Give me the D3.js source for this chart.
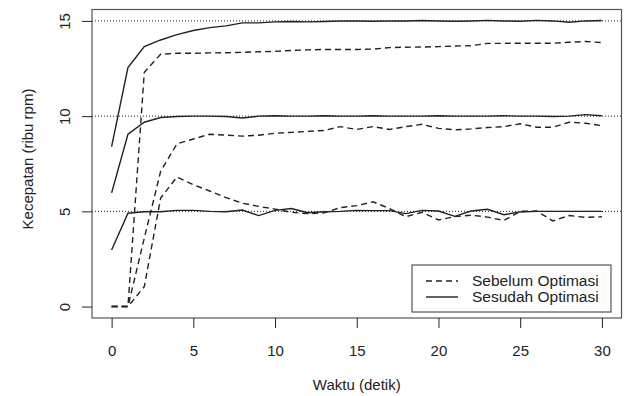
<!DOCTYPE html>
<html>
<head>
<meta charset="utf-8">
<script src="https://cdn.jsdelivr.net/npm/d3@7"></script>
<style>
  body { margin: 0; background: #fff; }
  svg { display: block; font-family: "Liberation Sans", Arial, sans-serif; }
</style>
</head>
<body>
<div id="chart"></div>
<script>
// time axis (seconds)
const waktu = [0, 1, 2, 3, 4, 5, 6, 7, 8, 9, 10, 11, 12, 13, 14, 15,
  16, 17, 18, 19, 20, 21, 22, 23, 24, 25, 26, 27, 28, 29, 30];

// before optimisation (dashed)
const sebelum5 = [0, 0, 1.05, 5.7, 6.8, 6.4, 6.07, 5.72, 5.43, 5.26, 5.12,
  4.95, 4.88, 4.92, 5.2, 5.3, 5.5, 5.15, 4.72, 4.95, 4.55, 4.72, 4.8, 4.7,
  4.52, 5.0, 5.02, 4.5, 4.78, 4.68, 4.72];
const sebelum10 = [0, 0, 3.6, 7.1, 8.55, 8.8, 9.05, 9.0, 8.95, 9.0, 9.1,
  9.15, 9.2, 9.25, 9.45, 9.3, 9.45, 9.3, 9.45, 9.57, 9.36, 9.28, 9.33, 9.4,
  9.45, 9.6, 9.42, 9.42, 9.68, 9.63, 9.5];
const sebelum15 = [0, 0, 12.3, 13.25, 13.3, 13.3, 13.32, 13.33, 13.35, 13.38,
  13.4, 13.45, 13.48, 13.5, 13.5, 13.5, 13.52, 13.6, 13.62, 13.63, 13.65,
  13.68, 13.7, 13.82, 13.82, 13.83, 13.83, 13.83, 13.88, 13.92, 13.86];

// after optimisation (solid)
const sesudah5 = [2.97, 4.9, 4.98, 4.98, 5.05, 5.05, 5.0, 4.98, 5.07, 4.78,
  5.05, 5.15, 4.93, 4.98, 5.0, 5.05, 5.04, 5.04, 4.88, 5.05, 5.02, 4.74, 5.02,
  5.11, 4.82, 4.97, 5.0, 5.0, 5.0, 5.0, 5.0];
const sesudah10 = [5.97, 9.05, 9.68, 9.93, 9.98, 10.0, 10.0, 9.98, 9.9, 10.0,
  10.02, 10.0, 10.0, 10.02, 10.0, 10.0, 10.02, 10.0, 10.0, 10.0, 10.02, 10.0,
  10.0, 10.0, 10.02, 10.0, 10.0, 9.98, 10.0, 10.08, 10.02];
const sesudah15 = [8.4, 12.55, 13.65, 14.0, 14.28, 14.5, 14.65, 14.74, 14.9,
  14.9, 14.95, 14.97, 14.95, 14.97, 15.0, 15.0, 14.98, 15.0, 15.0, 15.02, 15.0,
  14.98, 15.0, 15.03, 15.0, 14.98, 15.03, 15.0, 14.93, 15.0, 15.02];

const targets = [5, 10, 15];
const xTicks = [0, 5, 10, 15, 20, 25, 30];
const yTicks = [0, 5, 10, 15];
const legendLabels = ['Sebelum Optimasi', 'Sesudah Optimasi'];

const width = 624;
const height = 396;
const box = { left: 92, right: 621.5, top: 9.5, bottom: 318 };
const FONT = 15;
const INK = '#222';

const svg = d3.select('#chart')
  .append('svg')
  .attr('width', width)
  .attr('height', height);

// R-style 4% padding around the data range
const x = d3.scaleLinear()
  .domain([-1.2, 31.2])
  .range([box.left, box.right]);
const y = d3.scaleLinear()
  .domain([-0.6, 15.6])
  .range([box.bottom, box.top]);

// reference lines
svg.append('g')
  .selectAll('line')
  .data(targets)
  .enter().append('line')
    .attr('x1', box.left)
    .attr('x2', box.right)
    .attr('y1', d => y(d))
    .attr('y2', d => y(d))
    .attr('stroke', INK)
    .attr('stroke-width', 1)
    .attr('stroke-dasharray', '1,2');

const line = d3.line()
  .x((d, i) => x(waktu[i]))
  .y(d => y(d));

const series = [
  { values: sebelum5, dash: '6,4' },
  { values: sebelum10, dash: '6,4' },
  { values: sebelum15, dash: '6,4' },
  { values: sesudah5, dash: null },
  { values: sesudah10, dash: null },
  { values: sesudah15, dash: null },
];

svg.append('g')
  .selectAll('path')
  .data(series)
  .enter().append('path')
    .attr('d', d => line(d.values))
    .attr('fill', 'none')
    .attr('stroke', INK)
    .attr('stroke-width', 1.4)
    .attr('stroke-dasharray', d => d.dash);

// plot box
svg.append('rect')
  .attr('x', box.left)
  .attr('y', box.top)
  .attr('width', box.right - box.left)
  .attr('height', box.bottom - box.top)
  .attr('fill', 'none')
  .attr('stroke', '#555')
  .attr('stroke-width', 1.2);

// axes
const xAxis = svg.append('g')
  .attr('transform', `translate(0,${box.bottom})`)
  .call(d3.axisBottom(x).tickValues(xTicks).tickSize(10).tickPadding(17)
    .tickFormat(d3.format('d')));
xAxis.select('.domain').remove();

const yAxis = svg.append('g')
  .attr('transform', `translate(${box.left},0)`)
  .call(d3.axisLeft(y).tickValues(yTicks).tickSize(10)
    .tickFormat(d3.format('d')));
yAxis.select('.domain').remove();
yAxis.selectAll('text')
  .attr('x', null)
  .attr('dy', '0.35em')
  .attr('text-anchor', 'middle')
  .attr('transform', 'translate(-27,0) rotate(-90)');

svg.selectAll('.tick line').attr('stroke', INK);
svg.selectAll('.tick text')
  .attr('fill', INK)
  .style('font-size', FONT + 'px')
  .style('font-family', '"Liberation Sans", Arial, sans-serif');

// axis titles
svg.append('text')
  .attr('x', (box.left + box.right) / 2)
  .attr('y', 385)
  .attr('dy', '0.35em')
  .attr('text-anchor', 'middle')
  .attr('fill', INK)
  .style('font-size', FONT + 'px')
  .text('Waktu (detik)');

svg.append('text')
  .attr('text-anchor', 'middle')
  .attr('dy', '0.35em')
  .attr('transform', 'translate(28,159) rotate(-90)')
  .attr('fill', INK)
  .style('font-size', FONT + 'px')
  .text('Kecepatan (ribu rpm)');

// legend
const legend = svg.append('g')
  .attr('transform', 'translate(412,265)');

legend.append('rect')
  .attr('width', 199)
  .attr('height', 47)
  .attr('fill', '#fff')
  .attr('stroke', '#555')
  .attr('stroke-width', 1.2);

const legendRow = legend.selectAll('g')
  .data(legendLabels)
  .enter().append('g')
    .attr('transform', (d, i) => `translate(0,${16 + i * 16})`);

legendRow.append('line')
  .attr('x1', 14)
  .attr('x2', 46)
  .attr('stroke', INK)
  .attr('stroke-width', 1.4)
  .attr('stroke-dasharray', (d, i) => i === 0 ? '6,4' : null);

legendRow.append('text')
  .attr('x', 60)
  .attr('dy', '0.35em')
  .attr('fill', INK)
  .style('font-size', '15.5px')
  .text(d => d);
</script>
</body>
</html>
